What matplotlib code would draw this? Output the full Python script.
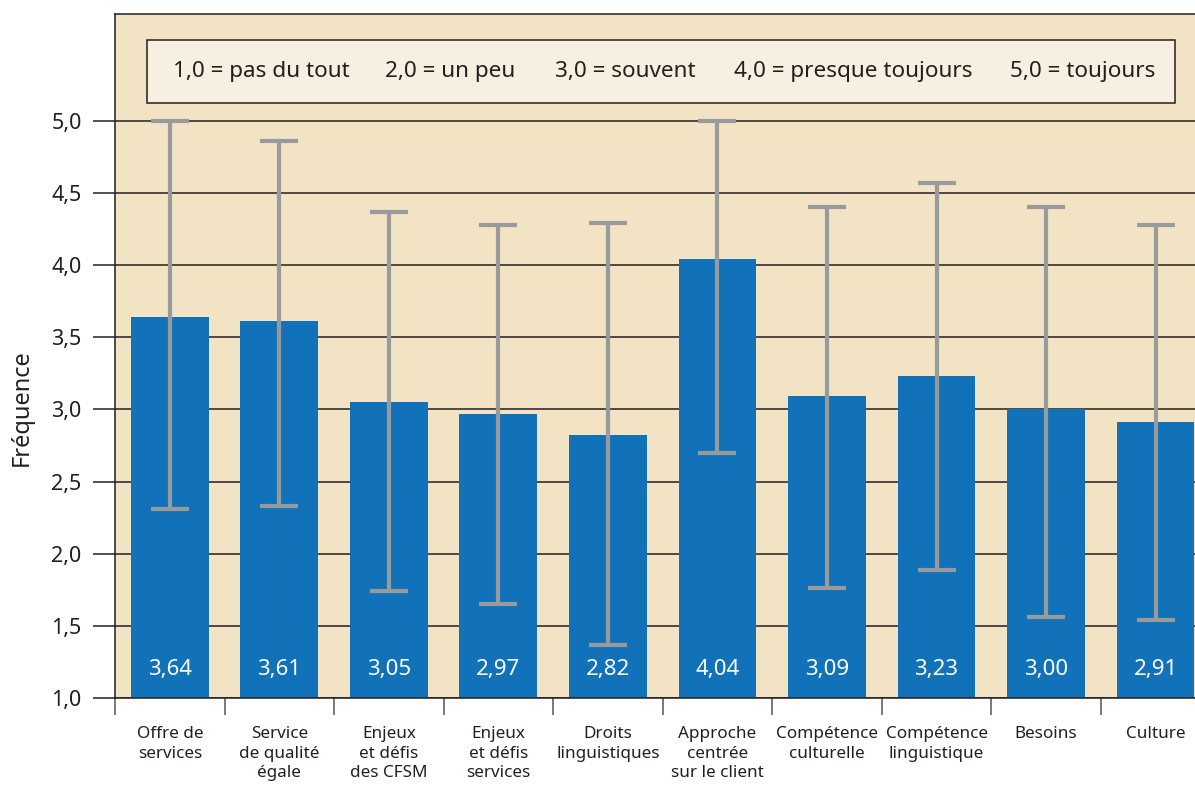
import matplotlib
matplotlib.use("Agg")
import matplotlib.pyplot as plt
from matplotlib.patches import Rectangle
import numpy as np

categories = ["Offre de\nservices", "Service\nde qualité\négale", "Enjeux\net défis\ndes CFSM",
              "Enjeux\net défis\nservices", "Droits\nlinguistiques", "Approche\ncentrée\nsur le client",
              "Compétence\nculturelle", "Compétence\nlinguistique", "Besoins", "Culture"]
means = [3.64, 3.61, 3.05, 2.97, 2.82, 4.04, 3.09, 3.23, 3.00, 2.91]
upper = [5.00, 4.86, 4.37, 4.28, 4.29, 5.00, 4.40, 4.57, 4.40, 4.28]
lower = [2.31, 2.33, 1.74, 1.65, 1.37, 2.70, 1.76, 1.89, 1.56, 1.54]
value_labels = ["3,64", "3,61", "3,05", "2,97", "2,82", "4,04", "3,09", "3,23", "3,00", "2,91"]
yticks = [1.0, 1.5, 2.0, 2.5, 3.0, 3.5, 4.0, 4.5, 5.0]
ytick_labels = ["1,0", "1,5", "2,0", "2,5", "3,0", "3,5", "4,0", "4,5", "5,0"]
legend_items = ["1,0 = pas du tout", "2,0 = un peu", "3,0 = souvent",
                "4,0 = presque toujours", "5,0 = toujours"]

plt.rcParams['font.family'] = ['Noto Sans', 'DejaVu Sans']
W, H = 1195, 792
fig = plt.figure(figsize=(W / 100, H / 100), dpi=100)
ax = fig.add_axes([115 / W, (H - 698) / H, (W - 115) / W, (698 - 14) / H])

bg = "#f1e3c3"
dark = "#231f20"
ax.set_facecolor(bg)

x = np.arange(len(categories))

for yv in yticks:
    ax.axhline(yv, color=dark, lw=1.1, zorder=1)

ax.bar(x, means, width=0.71, bottom=0, color="#1172ba", zorder=2)

m = np.array(means)
yerr = np.vstack([m - np.array(lower), np.array(upper) - m])
ax.errorbar(x, means, yerr=yerr, fmt="none", ecolor="#999a9c", elinewidth=3.0,
            capsize=13.5, capthick=3.0, zorder=3)

for xi, lab in zip(x, value_labels):
    ax.text(xi, 1.2, lab, ha="center", va="center", color="white", fontsize=16, zorder=4)

ax.set_yticks(yticks)
ax.set_yticklabels(ytick_labels, fontsize=15.5, color=dark)
ax.tick_params(axis="y", length=16, width=1.1, color=dark, pad=8)

ax.set_xticks(x)
ax.set_xticklabels(categories, fontsize=12.3, color=dark, linespacing=1.32)
ax.tick_params(axis="x", which="major", length=0, pad=20)
ax.set_xticks(x - 0.5, minor=True)
ax.tick_params(axis="x", which="minor", length=12, width=1.1, color="#555555")

ax.set_xlim(-0.5, 9.36)
ax.set_ylim(1.0, 5.74)

for s in ["left", "top", "bottom"]:
    ax.spines[s].set_color(dark)
    ax.spines[s].set_linewidth(1.1)
ax.spines["right"].set_visible(False)

fig.text(22 / W, (H - 408) / H, "Fréquence", rotation=90, ha="center", va="center",
         fontsize=17, color=dark)

# legend box
lx0, ly0, lx1, ly1 = 147, 40, 1175, 103
fig.patches.append(Rectangle((lx0 / W, (H - ly1) / H), (lx1 - lx0) / W, (ly1 - ly0) / H,
                             transform=fig.transFigure, facecolor="#f7efdf",
                             edgecolor=dark, linewidth=1.1, zorder=5))
lefts = [173, 385, 555, 734, 1010]
for lxp, t in zip(lefts, legend_items):
    fig.text(lxp / W, (H - 71) / H, t, ha="left", va="center", fontsize=16.2, color=dark, zorder=6)

fig.savefig("out.png", dpi=100)
